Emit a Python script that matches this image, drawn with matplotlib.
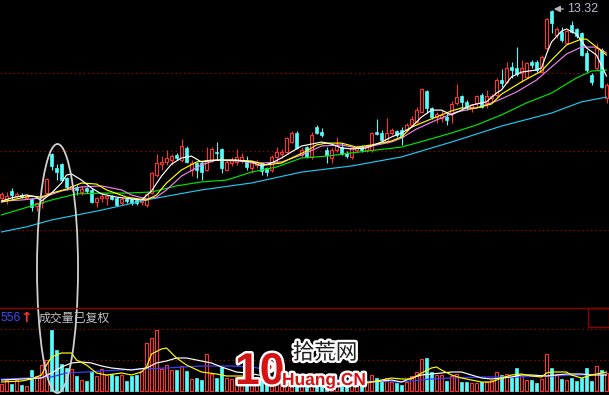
import matplotlib
matplotlib.use("Agg")
import matplotlib.pyplot as plt
import matplotlib.patheffects as pe
from matplotlib.patches import Rectangle, Ellipse, Circle

plt.rcParams['font.family'] = ['Liberation Sans', 'Noto Sans CJK SC', 'DejaVu Sans']

# daily candles (price)
opens = [6.24, 6.20, 6.50, 6.31, 6.35, 6.24, 6.20, 5.93, 6.05, 6.42,
         7.89, 7.36, 7.51, 6.99, 6.57, 6.65, 6.46, 6.61, 6.54, 6.08,
         6.24, 6.24, 6.31, 6.24, 6.05, 6.20, 6.20, 6.16, 6.08, 5.97,
         6.42, 7.10, 7.51, 7.59, 7.66, 7.85, 7.66, 8.12, 7.29, 7.55,
         7.55, 7.29, 7.66, 7.97, 8.08, 7.29, 7.55, 7.59, 7.63, 7.59,
         7.36, 7.48, 7.55, 7.36, 7.29, 7.78, 7.89, 7.97, 8.34, 8.68,
         7.85, 8.15, 7.78, 8.90, 8.71, 8.04, 7.74, 8.04, 8.15, 7.93,
         7.78, 8.04, 8.15, 8.04, 8.04, 8.71, 8.68, 8.34, 8.68, 8.75,
         8.79, 8.79, 8.98, 9.09, 9.47, 10.26, 9.62, 9.28, 9.24, 9.28,
         9.43, 9.81, 10.07, 9.85, 9.62, 9.81, 10.11, 9.81, 9.99, 10.11,
         10.67, 10.60, 11.16, 11.12, 10.94, 10.79, 11.35, 11.35, 10.97, 11.88,
         13.28, 12.36, 12.48, 12.06, 12.74, 12.59, 12.44, 11.69, 10.86, 11.12,
         11.80, 9.99]
highs = [6.46, 6.46, 6.61, 6.46, 6.42, 6.39, 6.24, 6.08, 6.35, 6.99,
         7.93, 7.51, 7.55, 7.03, 6.76, 6.72, 6.69, 6.65, 6.61, 6.27,
         6.42, 6.35, 6.35, 6.27, 6.24, 6.24, 6.24, 6.20, 6.24, 6.42,
         7.21, 7.89, 7.81, 8.04, 7.89, 7.93, 8.45, 8.19, 7.66, 7.59,
         7.59, 8.15, 8.15, 8.34, 8.12, 7.66, 7.78, 8.08, 7.93, 7.81,
         7.59, 7.66, 7.59, 7.40, 7.85, 8.15, 8.08, 8.53, 8.75, 8.75,
         8.15, 8.19, 8.71, 8.98, 8.87, 8.15, 8.12, 8.53, 8.30, 8.00,
         8.15, 8.23, 8.23, 8.23, 8.71, 9.21, 8.79, 9.24, 8.87, 8.79,
         8.90, 9.05, 9.32, 9.66, 10.37, 10.30, 9.66, 9.47, 9.54, 9.43,
         9.88, 10.52, 10.11, 9.92, 9.77, 10.11, 10.18, 10.30, 10.14, 10.75,
         11.09, 11.35, 11.35, 11.91, 11.42, 11.35, 11.42, 11.42, 11.61, 13.00,
         13.32, 12.66, 12.66, 12.55, 12.89, 12.63, 12.48, 11.80, 10.94, 12.06,
         11.88, 10.56]
lows = [6.12, 6.01, 6.20, 6.24, 6.24, 6.20, 5.75, 5.75, 5.86, 6.39,
        7.29, 6.91, 6.87, 6.54, 6.50, 6.35, 6.35, 6.42, 6.05, 5.90,
        6.08, 5.97, 6.16, 5.93, 5.97, 6.05, 5.97, 5.97, 5.97, 5.90,
        6.39, 7.03, 7.29, 7.48, 7.48, 7.66, 7.59, 7.55, 7.06, 6.99,
        6.91, 7.25, 7.59, 7.66, 7.18, 7.25, 7.44, 7.48, 7.55, 7.29,
        7.18, 7.36, 7.10, 7.06, 7.21, 7.59, 7.74, 7.93, 8.30, 8.08,
        7.78, 7.74, 7.70, 8.64, 8.53, 7.55, 7.55, 7.97, 7.85, 7.74,
        7.70, 7.97, 7.97, 7.97, 7.97, 8.60, 8.34, 8.30, 8.60, 8.53,
        8.23, 8.75, 8.90, 9.05, 9.43, 9.43, 9.21, 9.05, 9.09, 8.98,
        9.05, 9.73, 9.62, 9.54, 9.47, 9.66, 9.62, 9.62, 9.85, 10.03,
        10.41, 10.56, 10.75, 10.82, 10.60, 10.75, 11.12, 10.97, 10.94, 11.80,
        12.44, 12.25, 12.10, 12.03, 12.44, 12.25, 11.57, 10.97, 10.48, 11.05,
        10.37, 9.81]
closes = [6.39, 6.31, 6.35, 6.39, 6.27, 6.31, 5.90, 6.05, 6.27, 6.95,
          7.44, 7.21, 6.91, 6.65, 6.69, 6.54, 6.57, 6.50, 6.08, 6.24,
          6.31, 6.31, 6.20, 5.97, 6.20, 6.12, 6.05, 6.05, 6.16, 6.39,
          7.18, 7.55, 7.59, 7.74, 7.81, 7.74, 8.19, 7.59, 7.55, 7.29,
          7.21, 7.66, 8.08, 7.93, 7.36, 7.59, 7.66, 7.78, 7.78, 7.40,
          7.55, 7.59, 7.25, 7.21, 7.78, 7.97, 7.97, 8.49, 8.68, 8.12,
          8.04, 7.78, 8.60, 8.68, 8.60, 7.85, 8.04, 8.23, 7.89, 7.81,
          8.12, 8.15, 8.04, 8.19, 8.68, 8.64, 8.41, 8.68, 8.79, 8.60,
          8.53, 8.98, 9.21, 9.54, 10.33, 9.62, 9.28, 9.39, 9.36, 9.17,
          9.77, 10.03, 9.85, 9.66, 9.73, 10.07, 9.66, 10.07, 10.07, 10.67,
          10.56, 11.12, 11.05, 10.90, 11.12, 11.31, 11.24, 11.05, 11.54, 12.97,
          12.82, 12.59, 12.18, 12.51, 12.48, 12.33, 11.61, 11.05, 10.60, 11.88,
          10.41, 10.48]
volume = [7, 11, 7, 11, 6, 5, 21, 15, 26, 31,
          61, 41, 27, 23, 22, 15, 11, 10, 20, 15,
          22, 16, 17, 15, 16, 10, 15, 16, 20, 48,
          53, 61, 22, 26, 21, 21, 25, 20, 12, 13,
          11, 37, 17, 13, 24, 13, 12, 14, 11, 6,
          10, 8, 12, 9, 14, 12, 9, 16, 18, 15,
          8, 11, 18, 12, 9, 6, 9, 12, 9, 7,
          10, 8, 7, 9, 16, 13, 10, 13, 9, 8,
          6, 9, 15, 19, 32, 33, 19, 16, 16, 10,
          15, 17, 9, 9, 8, 8, 9, 9, 11, 19,
          16, 17, 13, 23, 15, 11, 11, 8, 12, 37,
          23, 17, 12, 11, 13, 10, 13, 23, 10, 25,
          21, 18]

# price averages
ma5_idx = [0, 2, 5, 7, 8, 10, 12, 13, 14, 16, 18, 20, 23, 26, 28, 30, 32, 34, 36, 38,
           40, 43, 47, 50, 52, 54, 56, 58, 60, 63, 64, 66, 68, 70, 73, 76, 78, 80, 82, 84,
           86, 88, 90, 92, 94, 97, 99, 100, 102, 104, 107, 108, 109, 110, 112, 113, 115, 117, 119, 121]
ma5_val = [6.12, 6.24, 6.35, 6.27, 6.12, 6.42, 6.80, 7.10, 7.14, 6.91, 6.61, 6.39, 6.27, 6.20, 6.16,
           6.50, 7.06, 7.51, 7.74, 7.81, 7.59, 7.66, 7.66, 7.59, 7.44, 7.55, 7.74, 7.97, 8.19, 8.30,
           8.34, 8.26, 8.12, 8.08, 8.12, 8.34, 8.53, 8.68, 8.90, 9.28, 9.54, 9.54, 9.36, 9.54, 9.73,
           9.85, 10.18, 10.30, 10.79, 10.97, 11.05, 11.12, 11.65, 12.10, 12.51, 12.59, 12.40, 11.88, 11.61, 10.82]
ma10_idx = [0, 4, 6, 8, 10, 13, 16, 19, 21, 25, 29, 31, 33, 36, 39, 42, 46, 50, 53, 56, 58, 61,
            63, 65, 68, 71, 74, 78, 80, 82, 86, 90, 92, 95, 98, 100, 104, 108, 110, 113, 116, 117, 119, 121]
ma10_val = [6.08, 6.24, 6.31, 6.27, 6.42, 6.57, 6.80, 6.76, 6.54, 6.27, 6.16, 6.35, 6.80, 7.29, 7.59,
            7.66, 7.66, 7.63, 7.48, 7.55, 7.74, 8.00, 8.23, 8.30, 8.30, 8.15, 8.23, 8.38, 8.53, 8.90,
            9.21, 9.51, 9.62, 9.62, 9.77, 10.14, 10.60, 11.01, 11.42, 11.99, 12.21, 12.21, 11.91, 11.61]
ma20_idx = [0, 4, 8, 12, 16, 20, 24, 26, 29, 31, 33, 36, 40, 43, 47, 52, 56, 60, 64, 68, 71, 74,
            78, 80, 83, 87, 91, 95, 99, 103, 107, 110, 113, 116, 119, 121]
ma20_val = [6.12, 6.16, 6.24, 6.50, 6.65, 6.69, 6.54, 6.35, 6.20, 6.27, 6.54, 7.06, 7.48, 7.66, 7.63,
            7.55, 7.59, 7.85, 8.19, 8.23, 8.12, 8.19, 8.34, 8.49, 8.83, 9.17, 9.47, 9.62, 9.88, 10.22,
            10.67, 11.16, 11.65, 11.91, 11.91, 11.69]
ma60_idx = [0, 10, 15, 20, 25, 30, 35, 40, 45, 50, 55, 60, 65, 70, 75, 80, 85, 90, 95, 100, 105,
            110, 115, 118, 121]
ma60_val = [5.60, 6.16, 6.39, 6.42, 6.42, 6.46, 6.69, 6.84, 6.91, 7.21, 7.40, 7.74, 7.81, 7.93, 8.04,
            8.15, 8.41, 8.68, 8.98, 9.36, 9.81, 10.18, 10.75, 11.01, 11.05]
ma120_idx = [0, 5, 10, 20, 30, 40, 50, 60, 70, 80, 90, 100, 110, 116, 121]
ma120_val = [4.96, 5.15, 5.41, 5.78, 6.20, 6.54, 6.80, 7.21, 7.44, 7.78, 8.34, 8.94, 9.43, 9.85, 10.03]

# volume averages
vma5_idx = [0, 4, 6, 8, 9, 10, 12, 14, 15, 17, 19, 21, 24, 26, 28, 29, 30, 32, 33, 35, 37, 40, 43,
            45, 48, 55, 62, 66, 71, 73, 76, 78, 80, 82, 84, 86, 87, 88, 90, 92, 94, 96, 98, 100, 102,
            104, 106, 108, 109, 110, 113, 114, 116, 118, 120, 121]
vma5_val = [9, 10, 12, 16, 26, 34, 38, 38, 31, 26, 18, 16, 18, 16, 19, 24, 37, 42, 43, 33, 26, 19, 17,
            15, 15, 10, 12, 6, 6, 8, 11, 13, 12, 12, 18, 23, 24, 21, 16, 13, 11, 9, 9, 13, 16,
            17, 15, 14, 18, 19, 19, 16, 13, 16, 18, 19]
vma10_idx = [0, 4, 8, 10, 12, 14, 16, 18, 20, 22, 24, 26, 29, 31, 33, 35, 37, 39, 42, 44, 47, 49, 55,
             62, 65, 70, 74, 78, 80, 82, 84, 86, 88, 90, 92, 94, 96, 98, 100, 102, 104, 106, 109, 111,
             113, 116, 118, 121]
vma10_val = [11, 12, 13, 18, 24, 28, 29, 28, 25, 23, 22, 21, 23, 28, 30, 33, 33, 31, 28, 24, 19, 18, 13,
             10, 8, 8, 9, 11, 9, 13, 16, 17, 18, 19, 19, 16, 13, 12, 13, 14, 16, 16, 15, 16,
             17, 17, 16, 16]
vma20_idx = [0, 10, 13, 17, 20, 24, 28, 33, 40, 46, 50, 56, 64, 72, 80, 86, 90, 96, 103, 110, 116, 121]
vma20_val = [12, 14, 18, 19, 20, 21, 22, 23, 25, 25, 24, 19, 13, 10, 9, 12, 13, 14, 14, 15, 16, 17]

grid_prices = [10.94, 8.00, 5.03]
grid_volumes = [31, 62]

RED = "#ff3232"
CYAN = "#54fcfc"
DARKRED = "#8c0000"
DOTS = (0, (1.4, 2.8))

fig = plt.figure(figsize=(6.09, 3.95), dpi=100, facecolor="black")
ax = fig.add_axes([0, 87 / 395, 1, 308 / 395])
axv = fig.add_axes([0, 0, 1, 87 / 395])
for a in (ax, axv):
    a.set_facecolor("black")
    a.set_xlim(-0.3, 121.5)
    a.axis("off")
ax.set_ylim(2.10, 13.68)
axv.set_ylim(-4, 83)

for p in grid_prices:
    ax.axhline(p, color="#a00000", lw=0.75, ls=DOTS, zorder=0)
for v in grid_volumes:
    axv.axhline(v, color="#a00000", lw=0.75, ls=DOTS, zorder=0)
axv.axhline(0, color=DARKRED, lw=0.8, zorder=0)

# candles
w = 0.6
for i, (o, h, l, c) in enumerate(zip(opens, highs, lows, closes)):
    if c >= o:
        ax.vlines(i, c, h, color=RED, lw=0.8, zorder=2)
        ax.vlines(i, l, o, color=RED, lw=0.8, zorder=2)
        ax.add_patch(Rectangle((i - w / 2, o), w, c - o, facecolor="black",
                               edgecolor=RED, lw=0.8, zorder=2))
    else:
        ax.vlines(i, l, h, color=CYAN, lw=0.8, zorder=2)
        ax.add_patch(Rectangle((i - w / 2, c), w, o - c, facecolor=CYAN,
                               edgecolor=CYAN, lw=0.5, zorder=2))

ax.plot(ma120_idx, ma120_val, color="#1ec8f0", lw=0.85, zorder=3)
ax.plot(ma60_idx, ma60_val, color="#00e600", lw=0.85, zorder=3)
ax.plot(ma20_idx, ma20_val, color="#f080f0", lw=0.85, zorder=3)
ax.plot(ma10_idx, ma10_val, color="#ffff00", lw=0.85, zorder=3)
ax.plot(ma5_idx, ma5_val, color="white", lw=0.85, zorder=3)

# volume bars
vw = 0.55
for i, v in enumerate(volume):
    if closes[i] >= opens[i]:
        axv.add_patch(Rectangle((i - vw / 2, 0), vw, v, facecolor="black",
                                edgecolor=RED, lw=0.8, zorder=2))
    else:
        axv.add_patch(Rectangle((i - vw / 2, 0), vw, v, facecolor=CYAN,
                                edgecolor=CYAN, lw=0.5, zorder=2))

axv.plot(vma20_idx, vma20_val, color="#3c3cff", lw=0.9, zorder=3)
axv.plot(vma10_idx, vma10_val, color="white", lw=0.85, zorder=3)
axv.plot(vma5_idx, vma5_val, color="#ffff00", lw=0.85, zorder=3)

# overlay in pixel coordinates for labels and annotations
ov = fig.add_axes([0, 0, 1, 1])
ov.set_xlim(0, 609)
ov.set_ylim(395, 0)
ov.axis("off")

ov.plot([0, 609], [308, 308], color=DARKRED, lw=1.0)
ov.add_patch(Rectangle((588, 308), 21, 19, fill=False, edgecolor=DARKRED, lw=1.0))

ov.text(0.5, 318, "556", color="#4646ff", fontsize=8.8, va="center", ha="left")
ov.text(26, 318, "↑", color=RED, fontsize=10, va="center", ha="center",
        fontweight="bold", family=["DejaVu Sans"])
ov.text(39, 318, "成交量已复权", color="#c0c0c0", fontsize=8.6, va="center", ha="left",
        family=["Noto Sans CJK SC", "DejaVu Sans"])

hi = max(highs)
ov.annotate("", xy=(551, 9), xytext=(566, 9),
            arrowprops=dict(arrowstyle="-|>", color="#b4b4bc", lw=1.0, mutation_scale=9))
ov.text(567, 9.5, f"{hi:.2f}", color="#b8bcc8", fontsize=9, va="center", ha="left")

# highlight ellipse
ov.add_patch(Ellipse((57.5, 268.5), 41, 249, fill=False, edgecolor="#d0d0d0", lw=1.3))

# watermark
stroke = [pe.withStroke(linewidth=3.5, foreground="white")]
ov.text(235, 384, "10", color="#d41414", fontsize=32, fontweight="bold",
        ha="left", va="baseline", path_effects=stroke)
ov.add_patch(Circle((269, 367), 6.5, facecolor="white", edgecolor="none"))
ov.add_patch(Circle((269, 367), 2.5, facecolor="#d41414", edgecolor="none"))
ov.text(325, 353, "拾荒网", color="#1e1e1e", fontsize=15.5, ha="center", va="center",
        family=["Noto Sans CJK SC", "DejaVu Sans"], path_effects=stroke)
ov.text(282, 385, "Huang.CN", color="#d41414", fontsize=12.5, fontweight="bold",
        ha="left", va="baseline", path_effects=stroke)

fig.savefig("out.png", dpi=100, facecolor="black")
